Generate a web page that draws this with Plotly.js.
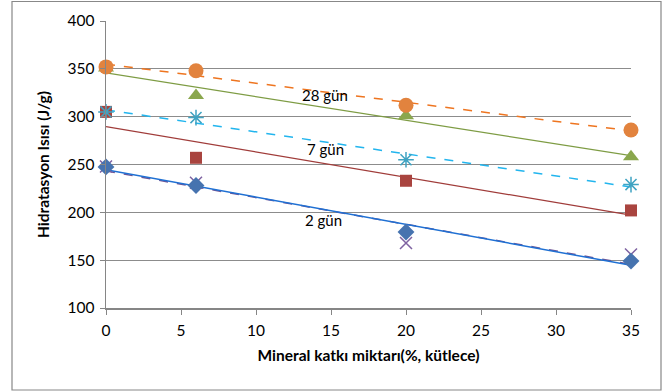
<!DOCTYPE html>
<html>
<head>
<meta charset="utf-8">
<script src="https://cdn.plot.ly/plotly-3.0.1.min.js"></script>
<style>html,body{margin:0;padding:0;background:#fff;}#chart{width:668px;height:391px;}</style>
</head>
<body>
<div id="chart"></div>
<script>
const xVals = [0, 6, 20, 35];
const s2a = [247.5, 228, 179.5, 149];   // blue diamonds
const s2b = [248, 231, 168, 156];       // purple x
const s7a = [305, 257, 233, 202];       // red squares
const s7b = [305, 299, 255, 229];       // cyan asterisks
const s28a = [351, 322, 301, 258];      // green triangles
const s28b = [352, 348, 312, 286];      // orange circles
const labels = ["28 gün", "7 gün", "2 gün"];
const labelX = [14.6, 14.6, 14.5];
const labelY = [323, 266, 192];

function fit(x, y) {
  const n = x.length;
  const mx = x.reduce((a,b)=>a+b,0)/n, my = y.reduce((a,b)=>a+b,0)/n;
  let sxy=0, sxx=0;
  for (let i=0;i<n;i++){ sxy+=(x[i]-mx)*(y[i]-my); sxx+=(x[i]-mx)**2; }
  const m = sxy/sxx, b = my - m*mx;
  return {x:[0,35], y:[b, b+m*35]};
}

const series = [
  {y: s2b, sym: 'x-thin-open', size: 12, mc: '#7E62A1', lc: '#6E5494', dash: 'dash', lw: 1.5},
  {y: s2a, sym: 'diamond', size: 13, mc: '#4673AF', lc: '#1F70D3', dash: 'solid', lw: 1.5},
  {y: s7a, sym: 'square', size: 12, mc: '#A9443F', lc: '#A03C3A', dash: 'solid', lw: 1.2},
  {y: s7b, sym: 'asterisk-open', size: 13, mc: '#3FA3C2', lc: '#22B5EE', dash: 'dash', lw: 1.5},
  {y: s28a, sym: 'triangle-up', size: 14, mc: '#8AA74D', lc: '#7E9C44', dash: 'solid', lw: 1.2},
  {y: s28b, sym: 'circle', size: 15, mc: '#E2833E', lc: '#EE7520', dash: 'dash', lw: 1.5}
];

const traces = [];
series.forEach(s => {
  const f = fit(xVals, s.y);
  traces.push({x: f.x, y: f.y, mode: 'lines', cliponaxis: false, line: {color: s.lc, width: s.lw, dash: s.dash}, hoverinfo: 'skip'});
});
series.forEach(s => {
  traces.push({x: xVals, y: s.y, mode: 'markers', cliponaxis: false,
    marker: {symbol: s.sym, size: s.size, color: s.mc, line: {color: s.mc, width: s.sym.indexOf('open')>=0 ? 1.5 : 0}}});
});

const FONT = 'Lato, sans-serif';
const annotations = labels.map((t,i)=>({x: labelX[i], y: labelY[i], text: t, showarrow: false,
  font: {family: FONT, size: 15, color: '#000'}, xanchor: 'center', yanchor: 'middle'}));

const layout = {
  width: 668, height: 391,
  margin: {l: 106, r: 37, t: 21, b: 83},
  paper_bgcolor: '#fff', plot_bgcolor: '#fff',
  showlegend: false,
  font: {family: FONT, size: 15, color: '#000'},
  xaxis: {range: [0, 35], tick0: 0, dtick: 5, showgrid: false, zeroline: false,
    showline: true, linecolor: '#868686', linewidth: 1.5, ticks: 'outside', ticklen: 5, tickcolor: '#868686',
    tickfont: {family: FONT, size: 15.5}, ticklabelstandoff: 3,
    title: {text: '<b>Mineral katkı miktarı(%, kütlece)</b>', font: {family: FONT, size: 15.5}, standoff: 12}},
  yaxis: {range: [100, 400], tick0: 100, dtick: 50, showgrid: true, gridcolor: '#8C8C8C', gridwidth: 1.3,
    zeroline: false, showline: true, linecolor: '#868686', linewidth: 1.5, ticks: 'outside', ticklen: 5, tickcolor: '#868686',
    tickfont: {family: FONT, size: 15.5}, ticklabelstandoff: 2,
    title: {text: '<b>Hidratasyon Isısı (J/g)</b>', font: {family: FONT, size: 15.5}, standoff: 14}},
  annotations: annotations,
  shapes: [{type: 'rect', xref: 'paper', yref: 'paper',
    x0: (12-106)/525, x1: (661-106)/525, y0: (308-390)/287, y1: (308-1.5)/287,
    line: {color: '#888', width: 1.2}, fillcolor: 'rgba(0,0,0,0)', layer: 'below'}]
};

Plotly.newPlot('chart', traces, layout, {displayModeBar: false, staticPlot: true});
</script>
</body>
</html>
